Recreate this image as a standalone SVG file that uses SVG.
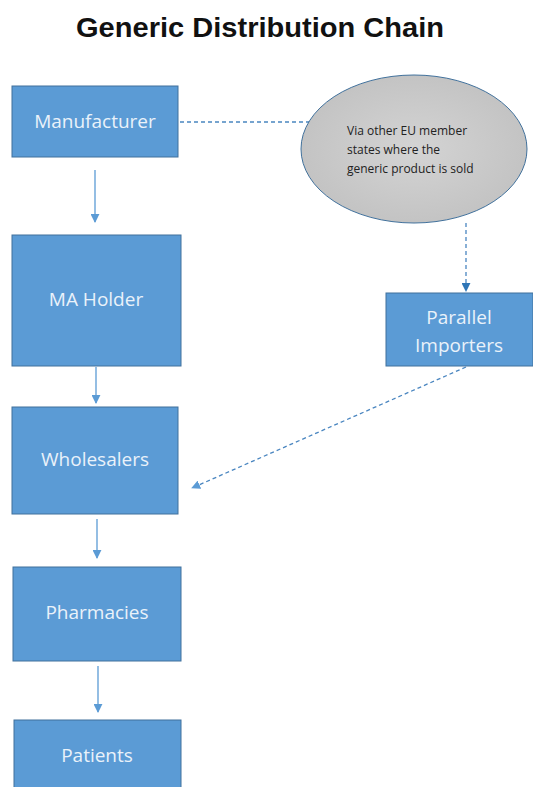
<svg xmlns="http://www.w3.org/2000/svg" width="533" height="787" viewBox="0 0 533 787">
<style>
.box{fill:#5B9BD5;stroke:#41719C;stroke-width:1}
.lbl{font-family:"Open Sans","Liberation Sans",sans-serif;font-size:19px;fill:#EAF2FA;text-anchor:middle}
.note{font-family:"Open Sans","Liberation Sans",sans-serif;font-size:12px;fill:#222}
.solid{stroke:#5B9BD5;stroke-width:1.3;fill:none}
.dash{stroke:#4A86C0;stroke-width:1.3;fill:none;stroke-dasharray:4 3}
</style>
<defs>
<marker id="ah" viewBox="0 0 10 10" refX="9" refY="5" markerWidth="9" markerHeight="9" markerUnits="userSpaceOnUse" orient="auto">
<path d="M0,0 L10,5 L0,10 z" fill="#5B9BD5"/>
</marker>
<marker id="ahd" viewBox="0 0 10 10" refX="9" refY="5" markerWidth="9" markerHeight="9" markerUnits="userSpaceOnUse" orient="auto">
<path d="M0,0 L10,5 L0,10 z" fill="#2E75B6"/>
</marker>
<radialGradient id="gg" cx="0.5" cy="0.5" r="0.6">
<stop offset="0" stop-color="#D4D4D4"/>
<stop offset="1" stop-color="#C0C0C0"/>
</radialGradient>
</defs>
<rect width="533" height="787" fill="#fff"/>
<text x="76" y="37" textLength="368" lengthAdjust="spacingAndGlyphs" font-family="Liberation Sans,Arial,sans-serif" font-weight="bold" font-size="27" fill="#111">Generic Distribution Chain</text>
<g id="connectors">
<line class="solid" x1="95" y1="170" x2="95" y2="222" marker-end="url(#ah)"/>
<line class="solid" x1="96" y1="367" x2="96" y2="403" marker-end="url(#ah)"/>
<line class="solid" x1="97" y1="519" x2="97" y2="558" marker-end="url(#ah)"/>
<line class="solid" x1="98" y1="666" x2="98" y2="712" marker-end="url(#ah)"/>
<line class="dash" x1="180" y1="122" x2="311" y2="122"/>
<line class="dash" x1="466" y1="223" x2="466" y2="291" marker-end="url(#ahd)"/>
<line class="dash" x1="466" y1="367" x2="192" y2="488" marker-end="url(#ah)"/>
</g>
<g id="manufacturer"><rect class="box" x="12" y="86" width="166" height="71"/><text class="lbl" x="95" y="128">Manufacturer</text></g>
<g id="ma-holder"><rect class="box" x="12" y="235" width="169" height="131"/><text class="lbl" x="96" y="306">MA Holder</text></g>
<g id="wholesalers"><rect class="box" x="12" y="407" width="166" height="107"/><text class="lbl" x="95" y="466">Wholesalers</text></g>
<g id="pharmacies"><rect class="box" x="13" y="567" width="168" height="94"/><text class="lbl" x="97" y="619">Pharmacies</text></g>
<g id="patients"><rect class="box" x="14" y="720" width="167" height="70"/><text class="lbl" x="97" y="762">Patients</text></g>
<g id="parallel-importers"><rect class="box" x="386" y="293" width="147" height="73"/><text class="lbl" x="459" y="324">Parallel</text><text class="lbl" x="459" y="352">Importers</text></g>
<g id="eu-states"><ellipse cx="414" cy="149" rx="113" ry="74" fill="url(#gg)" stroke="#41719C" stroke-width="1"/>
<text class="note" x="347" y="135">Via other EU member</text><text class="note" x="347" y="154">states where the</text><text class="note" x="347" y="173">generic product is  sold</text></g>
</svg>
